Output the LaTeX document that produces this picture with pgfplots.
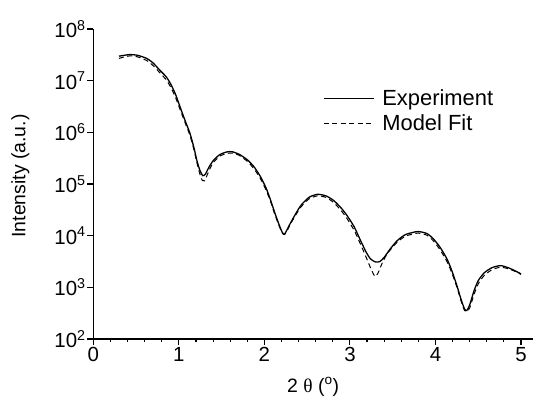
\documentclass[border=0pt]{standalone}
\usepackage{fontspec}
\setmainfont{Liberation Sans}
\newfontfamily\grfont{Liberation Serif}
\usepackage{pgfplots}
\pgfplotsset{compat=1.18}
\usepackage{pgfplotstable}

\pgfplotstableread{
x y
0.30 2.98e7
0.36 3.09e7
0.43 3.20e7
0.52 3.09e7
0.625 2.69e7
0.70 2.19e7
0.78 1.58e7
0.85 1.20e7
0.90 8.91e6
0.96 5.50e6
1.015 3.09e6
1.07 1.74e6
1.13 9.55e5
1.18 4.79e5
1.21 2.88e5
1.245 1.86e5
1.28 1.45e5
1.31 1.55e5
1.35 2.09e5
1.405 2.88e5
1.48 3.72e5
1.56 4.17e5
1.62 4.22e5
1.70 3.80e5
1.80 2.95e5
1.88 2.14e5
1.955 1.38e5
2.02 8.32e4
2.07 5.01e4
2.12 2.82e4
2.17 1.66e4
2.21 1.15e4
2.235 1.07e4
2.26 1.26e4
2.32 1.95e4
2.42 3.72e4
2.52 5.50e4
2.62 6.31e4
2.72 5.89e4
2.81 4.79e4
2.90 3.39e4
2.97 2.40e4
3.05 1.48e4
3.12 8.32e3
3.19 4.79e3
3.24 3.55e3
3.30 3.09e3
3.35 3.16e3
3.40 3.80e3
3.47 5.50e3
3.55 7.94e3
3.65 1.05e4
3.79 1.20e4
3.90 1.10e4
3.98 8.51e3
4.06 5.75e3
4.14 3.39e3
4.20 1.91e3
4.255 1.02e3
4.30 575
4.34 380
4.365 355
4.40 457
4.45 851
4.50 1.35e3
4.57 1.91e3
4.66 2.40e3
4.76 2.63e3
4.85 2.40e3
4.93 2.09e3
5.00 1.82e3
}\exptable

\pgfplotstableread{
x y
0.30 2.69e7
0.36 2.88e7
0.43 3.02e7
0.52 2.88e7
0.625 2.45e7
0.70 1.95e7
0.78 1.41e7
0.85 1.05e7
0.90 7.76e6
0.96 4.79e6
1.015 2.75e6
1.07 1.58e6
1.13 8.71e5
1.18 4.37e5
1.21 2.63e5
1.245 1.58e5
1.275 1.17e5
1.30 1.15e5
1.33 1.48e5
1.37 2.09e5
1.405 2.63e5
1.48 3.47e5
1.56 3.89e5
1.62 3.98e5
1.70 3.63e5
1.80 2.75e5
1.88 1.95e5
1.955 1.26e5
2.02 7.59e4
2.07 4.68e4
2.12 2.63e4
2.17 1.58e4
2.21 1.12e4
2.235 1.05e4
2.26 1.20e4
2.32 1.86e4
2.42 3.47e4
2.52 5.13e4
2.62 5.89e4
2.72 5.50e4
2.81 4.37e4
2.90 3.02e4
2.97 2.09e4
3.05 1.26e4
3.12 7.08e3
3.19 3.80e3
3.24 2.40e3
3.28 1.74e3
3.30 1.62e3
3.33 1.91e3
3.38 3.02e3
3.44 4.57e3
3.55 7.41e3
3.65 9.77e3
3.79 1.12e4
3.90 1.02e4
3.98 7.76e3
4.06 5.13e3
4.14 3.02e3
4.20 1.74e3
4.255 955
4.30 537
4.34 355
4.365 339
4.40 398
4.45 724
4.50 1.17e3
4.57 1.70e3
4.66 2.19e3
4.76 2.45e3
4.85 2.29e3
4.93 2.04e3
5.00 1.78e3
}\modeltable

\begin{document}
\begin{tikzpicture}
\begin{axis}[
  scale only axis,
  width=439.7bp, height=310bp,
  ymode=log,
  xmin=0, xmax=5.14,
  ymin=1e2, ymax=1e8,
  axis x line=bottom, axis y line=left,
  axis line style={-, line width=1.2bp},
  every tick/.style={line width=1.1bp, black},
  tick align=outside,
  major tick length=6bp, minor tick length=3.5bp,
  xtick={0,1,2,3,4,5},
  xticklabels={0,1,2,3,4,5},
  minor x tick num=4,
  ytick={1e2,1e3,1e4,1e5,1e6,1e7,1e8},
  yticklabels={10\textsuperscript{2},10\textsuperscript{3},10\textsuperscript{4},10\textsuperscript{5},10\textsuperscript{6},10\textsuperscript{7},10\textsuperscript{8}},
  yminorticks=false,
  tick label style={font=\fontsize{20.5}{23}\selectfont},
  yticklabel style={inner xsep=1.5bp},
  xticklabel style={inner ysep=2bp},
  xlabel={2 {\grfont θ} (\textsuperscript{o})},
  ylabel={Intensity (a.u.)},
  label style={font=\fontsize{19.5}{22}\selectfont},
  xlabel style={at={(axis description cs:0.5,-0.155)}, anchor=center},
  ylabel style={at={(axis description cs:-0.166,0.526)}, anchor=center},
  legend style={at={(axis description cs:0.522,0.81)}, anchor=north west,
    draw=none, fill=none, inner sep=0pt,
    font=\fontsize{22}{25}\selectfont, row sep=3.5bp,
    /tikz/every odd column/.append style={column sep=6bp}},
  legend cell align=left,
  legend image code/.code={\draw[#1] (0bp,0bp) -- (50bp,0bp);},
]
\addplot[black, line width=1.3bp, smooth, tension=0.4] table {\exptable};
\addlegendentry{Experiment}
\addplot[black, line width=1bp, dash pattern=on 5bp off 3.5bp, smooth, tension=0.4] table {\modeltable};
\addlegendentry{Model Fit}
\end{axis}
\pgfresetboundingbox
\path (-93.3bp,-59bp) rectangle (439.7bp,339bp);
\end{tikzpicture}
\end{document}
